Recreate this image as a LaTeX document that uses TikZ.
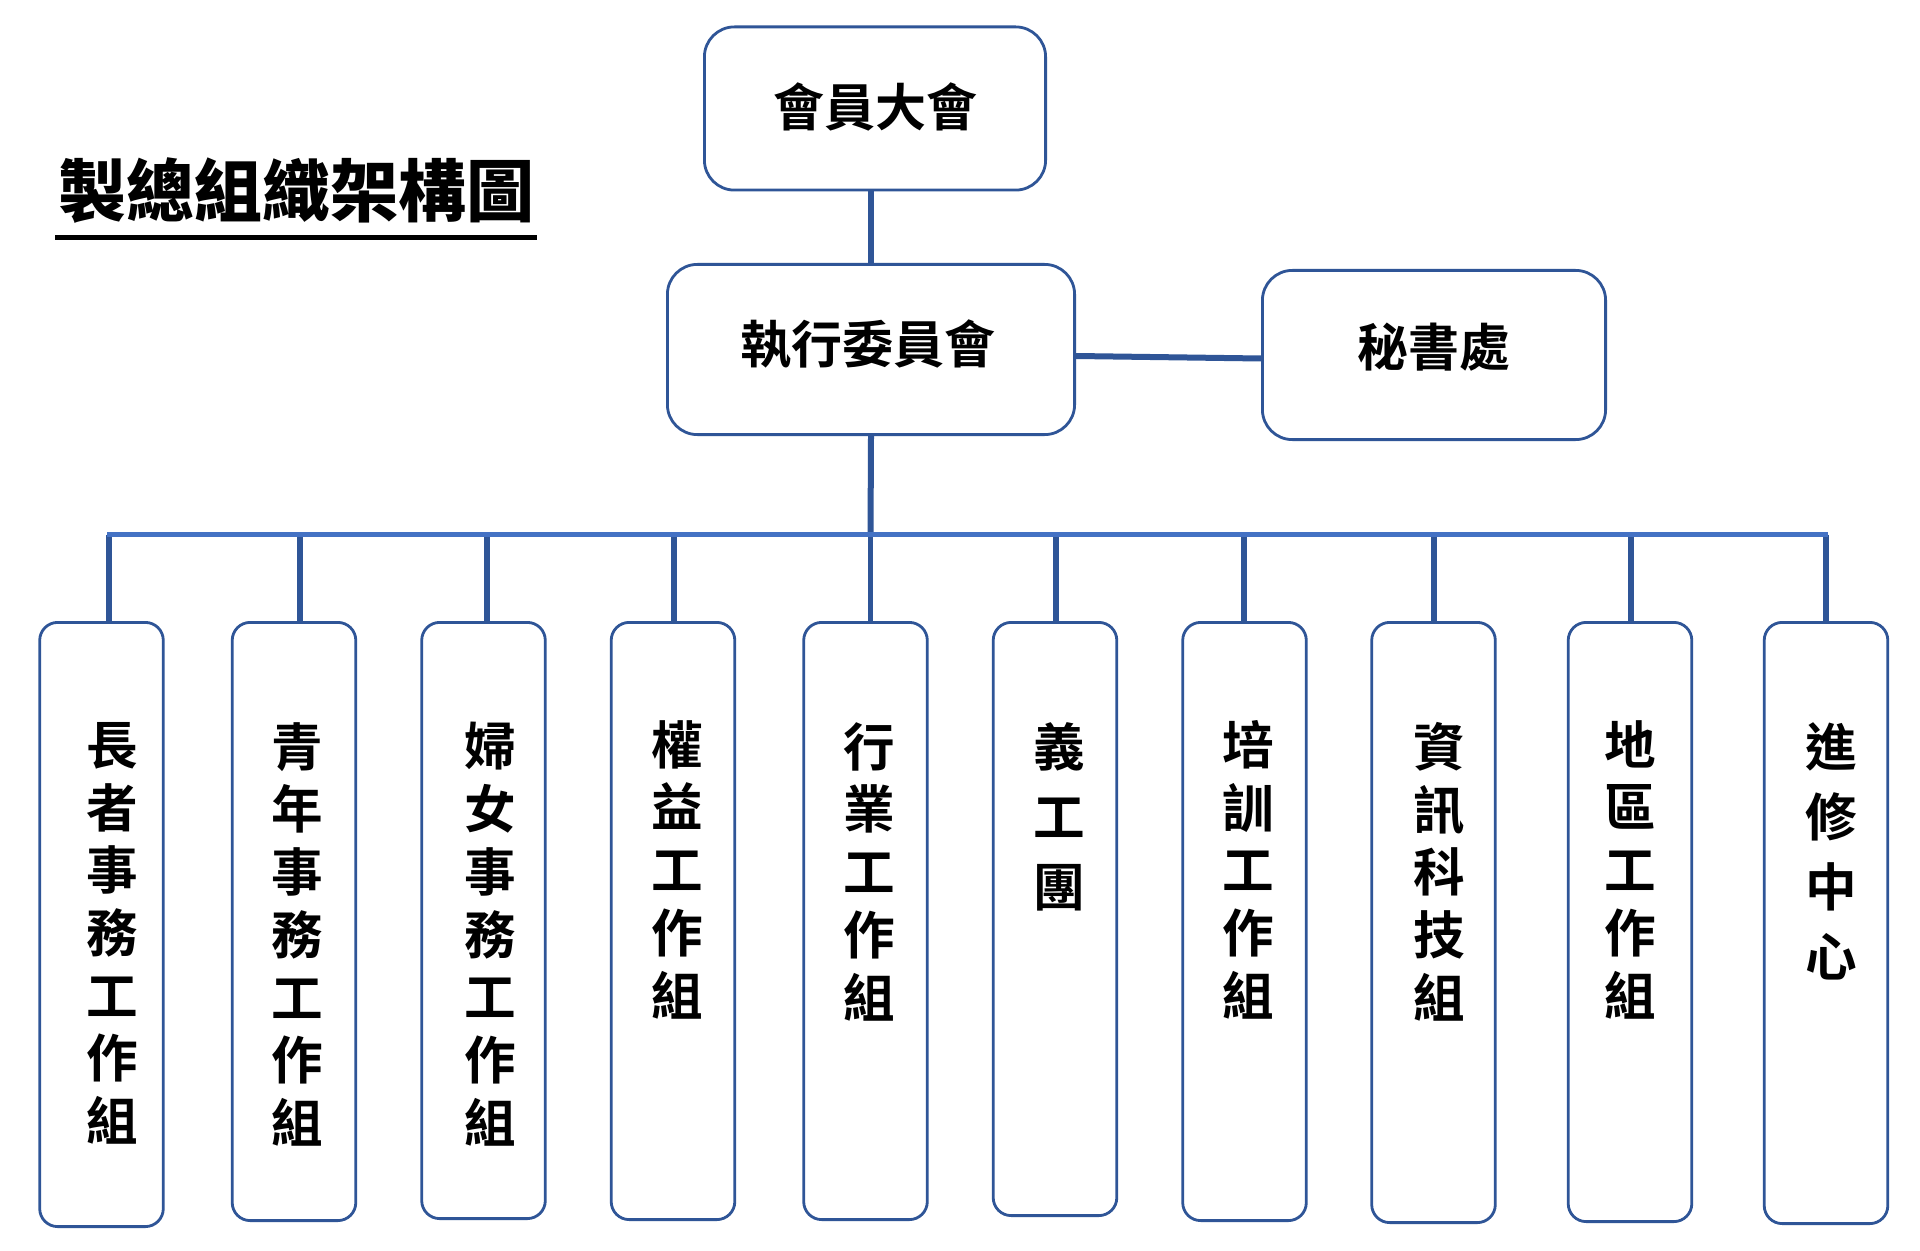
\documentclass[tikz,border=0pt]{standalone}
\usepackage{fontspec}
\newfontfamily\cjkb{Noto Sans CJK TC Bold}
\newfontfamily\cjkk{Noto Sans CJK TC Black}
\usetikzlibrary{calc}
\definecolor{bdr}{HTML}{2F5597}
\definecolor{buscol}{HTML}{4472C4}
\begin{document}
\begin{tikzpicture}[x=0.5pt,y=-0.5pt,
  topbox/.style={draw=bdr,line width=1.4pt,rounded corners=15pt,fill=white,inner sep=0pt},
  subbox/.style={draw=bdr,line width=1.4pt,rounded corners=9pt,fill=white,inner sep=0pt,minimum width=61.8pt},
  boxtext/.style={font=\cjkb\fontsize{25.5pt}{25.5pt}\selectfont,inner sep=0pt},
  vtext/.style={font=\cjkb\fontsize{25.8pt}{31.35pt}\selectfont,align=center,inner sep=0pt,anchor=north},
  vtextw/.style={font=\cjkb\fontsize{25.8pt}{35pt}\selectfont,align=center,inner sep=0pt,anchor=north},
  link/.style={draw=bdr,line width=3pt},
  stem/.style={draw=bdr,line width=2.8pt},
  busline/.style={draw=buscol,line width=2.9pt},
]
\useasboundingbox[fill=white] (0,0) rectangle (1920,1251);

% title
\node[font=\cjkk\fontsize{34pt}{34pt}\selectfont,inner sep=0pt] (title) at (296.5,190.5) {製總組織架構圖};
\draw[line width=2.6pt] (55,237.5) -- (537,237.5);

% top boxes
\node[topbox,minimum width=170.6pt,minimum height=81.6pt] (gm) at (875,108.5) {};
\node[topbox,minimum width=203.6pt,minimum height=85.1pt] (ec) at (871,349.5) {};
\node[topbox,minimum width=171.6pt,minimum height=84.6pt] (sec) at (1434,355) {};
\node[boxtext] (gmt) at (875,106.5) {會員大會};
\node[boxtext] (ect) at (868,344) {執行委員會};
\node[boxtext] (sect) at (1433.5,347) {秘書處};

% bus
\coordinate (busL) at (107,534.5);
\coordinate (busR) at (1828,534.5);
\coordinate (busM) at (870.5,534.5);

% connectors between top boxes
\draw[link] (ec.north |- gm.south) -- (ec.north);
\draw[link] ($(ec.east)+(0,6.5)$) -- ($(sec.west)+(0,3.5)$);
\draw[link] (ec.south) -- (busM);

% sub boxes
\node[subbox,minimum height=302.1pt] (b1) at (101.5,924.5) {};
\node[subbox,minimum height=299.1pt] (b2) at (294,921.5) {};
\node[subbox,minimum height=298.1pt] (b3) at (483.5,920.5) {};
\node[subbox,minimum height=298.6pt] (b4) at (673,921) {};
\node[subbox,minimum height=298.6pt] (b5) at (865.5,921) {};
\node[subbox,minimum height=296.6pt] (b6) at (1055,919) {};
\node[subbox,minimum height=299.1pt] (b7) at (1244.5,921.5) {};
\node[subbox,minimum height=300.1pt] (b8) at (1433.5,922.5) {};
\node[subbox,minimum height=299.6pt] (b9) at (1630,922) {};
\node[subbox,minimum height=300.6pt] (b10) at (1826,923) {};

% stems
\foreach \sx/\bx in {109/b1,300/b2,487/b3,674/b4,870.5/b5,1056/b6,1244/b7,1434/b8,1631/b9,1826/b10}{
  \coordinate (s-\bx) at (\sx,534.5);
  \draw[stem] (s-\bx) -- (s-\bx |- \bx.north);
}
\draw[busline] (busL) -- (busR);

% vertical texts
\node[vtext] (t1) at (112.5,722) {長\\者\\事\\務\\工\\作\\組};
\node[vtext] (t2) at (297,722) {青\\年\\事\\務\\工\\作\\組};
\node[vtext] (t3) at (490,722) {婦\\女\\事\\務\\工\\作\\組};
\node[vtext] (t4) at (677.7,720) {權\\益\\工\\作\\組};
\node[vtext] (t5) at (869,722) {行\\業\\工\\作\\組};
\node[vtextw] (t6) at (1059,722) {義\\工\\團};
\node[vtext] (t7) at (1248,720) {培\\訓\\工\\作\\組};
\node[vtext] (t8) at (1439,722) {資\\訊\\科\\技\\組};
\node[vtext] (t9) at (1630,720) {地\\區\\工\\作\\組};
\node[vtextw] (t10) at (1831,722) {進\\修\\中\\心};
\end{tikzpicture}
\end{document}
